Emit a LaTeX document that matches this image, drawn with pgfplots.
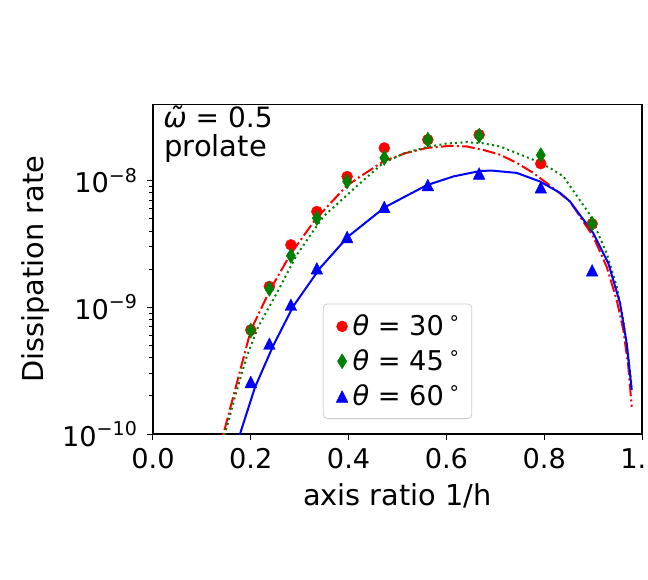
\documentclass[border=0pt]{standalone}
\usepackage{fontspec}
\setmainfont{DejaVu Sans}
\usepackage{pgfplots}
\pgfplotsset{compat=1.18}
\definecolor{mplgreen}{rgb}{0,0.5,0}
\definecolor{legframe}{rgb}{0.8,0.8,0.8}

\begin{document}
\begin{tikzpicture}[x=1pt,y=1pt]
\clip (-76.5,-72.5) rectangle (247.5,217);
\begin{axis}[
  at={(0,0)}, anchor=south west,
  scale only axis, width=244.5pt, height=164.85pt,
  ymode=log, xmin=0, xmax=1, ymin=1e-10, ymax=4e-8,
  xtick={0,0.2,0.4,0.6,0.8,1},
  xticklabels={0.0,0.2,0.4,0.6,0.8,1.0},
  ytick={1e-10,1e-9,1e-8},
  yticklabels={10\textsuperscript{−10},10\textsuperscript{−9},10\textsuperscript{−8}},
  tick align=outside, xtick pos=lower, ytick pos=left,
  major tick length=3pt, minor tick length=1.75pt,
  every tick/.style={black, line width=0.5pt},
  axis line style={line width=0.6pt},
  tick label style={font=\fontsize{13.6}{16}\selectfont},
  xticklabel style={anchor=base, yshift=-14pt},
  yticklabel style={anchor=east, xshift=-1pt},
  label style={font=\fontsize{14.4}{17}\selectfont},
  xlabel={axis ratio 1/h},
  ylabel={Dissipation rate},
  xlabel style={at={(axis description cs:0.5,0)}, anchor=base, yshift=-35.5pt},
  ylabel style={at={(axis description cs:-0.2393,0.5)}, anchor=center},
  legend style={at={(axis description cs:0.5,0.0455)}, anchor=south,
    draw=legframe, rounded corners=2pt, fill=white,
    font=\fontsize{13.6}{16}\selectfont, row sep=1.5pt,
    inner xsep=3.25pt, inner ysep=3.25pt},
  legend cell align=left,
  legend image code/.code={\path (-6pt,0pt) (3pt,0pt); \draw[#1] plot coordinates {(0pt,0pt)};},
  every axis plot/.append style={line join=round},
]
% fitted curves
\addplot[red, line width=1pt, dash pattern=on 6.4pt off 1.6pt on 1pt off 1.6pt, forget plot] coordinates {
(0.135,7.4e-11) (0.2,6.6e-10) (0.2393,1.37e-9)
(0.2802,2.59e-9) (0.3313,4.9e-9) (0.3961,9.1e-9) (0.4198,1.05e-8) (0.471,1.42e-8)
(0.515,1.64e-8) (0.5597,1.81e-8) (0.6074,1.88e-8) (0.6415,1.86e-8) (0.675,1.75e-8) (0.7096,1.60e-8)
(0.744,1.38e-8) (0.7777,1.15e-8)
(0.8186,8.73e-9) (0.8528,6.84e-9) (0.9004,3.61e-9) (0.9278,2.09e-9) (0.9483,1.14e-9)
(0.9618,6.62e-10) (0.972,3.40e-10) (0.979,1.64e-10)};
\addplot[mplgreen, line width=1pt, dash pattern=on 1pt off 1.65pt, forget plot] coordinates {
(0.138,7.4e-11) (0.1472,1.0e-10) (0.1677,1.97e-10) (0.1916,4.08e-10) (0.2153,7.05e-10)
(0.253,1.29e-9) (0.2939,2.59e-9) (0.3483,5.2e-9) (0.4198,9.27e-9) (0.471,1.38e-8)
(0.515,1.65e-8) (0.5597,1.84e-8) (0.6,1.96e-8) (0.6415,2.01e-8) (0.675,1.97e-8) (0.7096,1.86e-8)
(0.7777,1.46e-8) (0.81,1.27e-8) (0.8391,1.08e-8)
(0.8937,5.37e-9) (0.9278,2.67e-9) (0.9483,1.46e-9) (0.9618,7.94e-10) (0.972,4.08e-10)
(0.979,2.36e-10)};
\addplot[blue, line width=1pt, forget plot] coordinates {
(0.17,8.0e-11) (0.1779,1.0e-10) (0.2086,2.34e-10) (0.246,5.0e-10) (0.2869,1.02e-9)
(0.3415,2.04e-9) (0.3994,3.63e-9) (0.4744,6.17e-9) (0.5597,9.2e-9) (0.615,1.08e-8) (0.6687,1.19e-8)
(0.6926,1.20e-8) (0.7438,1.15e-8) (0.7914,9.84e-9) (0.8323,8.0e-9) (0.8528,6.84e-9)
(0.9004,3.85e-9) (0.9311,2.23e-9) (0.955,1.08e-9) (0.9687,5.20e-10) (0.979,2.23e-10)};
% data points
\addplot[only marks, mark=*, mark size=2.75pt, mark options={draw=red, fill=red, line width=0.2pt}] coordinates {
(0.200,6.62e-10) (0.238,1.46e-9) (0.282,3.11e-9) (0.335,5.70e-9) (0.397,1.076e-8)
(0.473,1.81e-8) (0.562,2.10e-8) (0.667,2.30e-8) (0.793,1.36e-8) (0.898,4.56e-9)};
\addlegendentry{{\itshape θ} = 30\,\textsuperscript{∘}}
\addplot[only marks, mark=diamond*, mark size=3.8pt, mark options={xscale=0.81, draw=mplgreen, fill=mplgreen, line width=0.2pt}] coordinates {
(0.200,6.55e-10) (0.238,1.40e-9) (0.282,2.55e-9) (0.335,5.06e-9) (0.397,9.84e-9)
(0.473,1.51e-8) (0.562,2.10e-8) (0.667,2.26e-8) (0.793,1.59e-8) (0.898,4.56e-9)};
\addlegendentry{{\itshape θ} = 45\,\textsuperscript{∘}}
\addplot[only marks, mark=triangle*, mark size=3.38pt, mark options={yscale=1.155, yshift=-0.975pt, draw=blue, fill=blue, line width=0.2pt}] coordinates {
(0.200,2.59e-10) (0.238,5.20e-10) (0.282,1.056e-9) (0.335,2.04e-9) (0.397,3.61e-9)
(0.473,6.23e-9) (0.562,9.27e-9) (0.667,1.145e-8) (0.793,8.89e-9) (0.898,1.97e-9)};
\addlegendentry{{\itshape θ} = 60\,\textsuperscript{∘}}
\node[anchor=base west, font=\fontsize{14}{17}\selectfont, inner sep=0pt] at (rel axis cs:0,1) [xshift=5pt, yshift=-11.5pt] {{\itshape ω̃} = 0.5};
\node[anchor=base west, font=\fontsize{14.5}{17}\selectfont, inner sep=0pt] at (rel axis cs:0,1) [xshift=5.5pt, yshift=-26.2pt] {prolate};
\end{axis}
\end{tikzpicture}
\end{document}
